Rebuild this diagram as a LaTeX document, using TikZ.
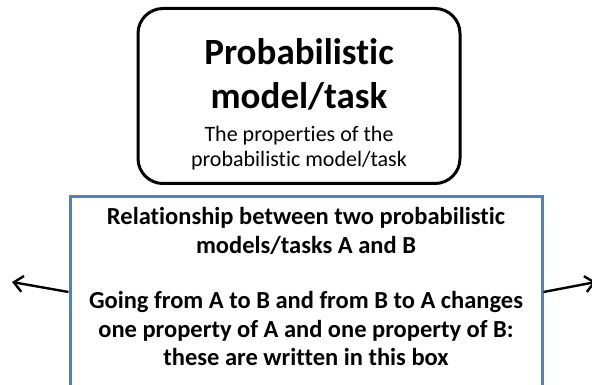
\documentclass[tikz,border=0pt]{standalone}
\usepackage{fontspec}
\setmainfont{Carlito}[RawFeature=-liga]
\usetikzlibrary{arrows.meta}
\definecolor{relblue}{RGB}{79,129,189}
\tikzset{
  modelbox/.style={draw=black, line width=3pt, rounded corners=25pt, minimum width=322pt,
    minimum height=175pt, align=center, inner sep=4pt},
  relbox/.style={draw=relblue, line width=3pt, inner xsep=10pt, inner ysep=11pt},
  link/.style={line width=2.4pt, -{Straight Barb[length=9pt,width=16pt,line width=2.4pt]}}
}
\begin{document}
\begin{tikzpicture}[x=1pt, y=-1pt]
  \useasboundingbox (0,0) rectangle (592,385);
  \clip (0,0) rectangle (592,385);
  % top box
  \node[modelbox] (model) at (299,96)
    {\rule{0pt}{42pt}\fontsize{37}{23}\selectfont\bfseries Probabilistic\\[17pt]
     \fontsize{37}{23}\selectfont\bfseries model/task\\[15pt]
     \fontsize{22}{23}\selectfont The properties of the\\[5pt]
     \fontsize{22}{23}\selectfont probabilistic model/task};
  % relationship box, runs past the bottom edge
  \node[relbox, anchor=north] (rel) at (306,195)
    {\parbox[t][205pt][t]{452pt}{\centering\fontsize{24.5}{28.5}\selectfont\bfseries
      Relationship between two probabilistic\\
      models/tasks A and B\\[27pt]
      Going from A to B and from B to A changes\\
      one property of A and one property of B:\\
      these are written in this box}};
  % arrows out of the box
  \coordinate (lend) at (12,282);
  \coordinate (rend) at (596,282);
  \draw[link] (rel.north west) ++(0,97) -- (lend);
  \draw[link] (rel.north east) ++(0,97) -- (rend);
\end{tikzpicture}
\end{document}
